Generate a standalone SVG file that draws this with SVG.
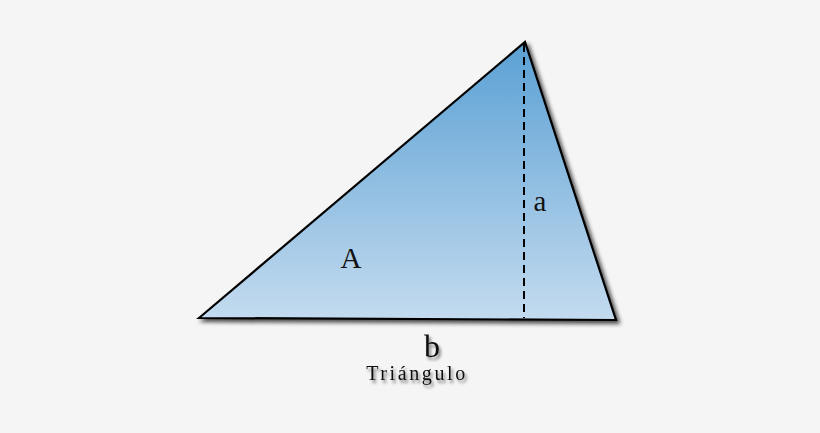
<svg xmlns="http://www.w3.org/2000/svg" width="820" height="433" viewBox="0 0 820 433">
<defs>
<linearGradient id="fillg" x1="0" y1="42" x2="0" y2="320" gradientUnits="userSpaceOnUse">
<stop offset="0" stop-color="#5aa0d4"/>
<stop offset="1" stop-color="#c4dbef"/>
</linearGradient>
<filter id="sh" x="-10%" y="-10%" width="130%" height="130%">
<feGaussianBlur in="SourceAlpha" stdDeviation="2"/>
<feOffset dx="3" dy="3"/>
<feComponentTransfer><feFuncA type="linear" slope="0.7"/></feComponentTransfer>
<feMerge><feMergeNode/><feMergeNode in="SourceGraphic"/></feMerge>
</filter>
<filter id="tsh" x="-20%" y="-30%" width="140%" height="180%">
<feGaussianBlur in="SourceAlpha" stdDeviation="1.5"/>
<feOffset dx="2" dy="3"/>
<feComponentTransfer><feFuncA type="linear" slope="0.5"/></feComponentTransfer>
<feMerge><feMergeNode/><feMergeNode in="SourceGraphic"/></feMerge>
</filter>
</defs>
<style>
.lbl{font-family:"Liberation Serif","DejaVu Serif",serif;fill:#111}
</style>
<rect width="820" height="433" fill="#f5f5f5"/>
<g id="triangle">
<polygon points="199,318 525,42 616,320" fill="url(#fillg)" stroke="#000" stroke-width="2.2" stroke-linejoin="miter" filter="url(#sh)"/>
</g>
<g id="connectors">
<line x1="524" y1="44" x2="524" y2="318" stroke="#000" stroke-width="2" stroke-dasharray="8,5"/>
</g>
<g id="labels">
<text class="lbl" x="351" y="268" font-size="29" text-anchor="middle">A</text>
<text class="lbl" x="540" y="211" font-size="29" text-anchor="middle">a</text>
<text class="lbl" x="432" y="357" font-size="32" text-anchor="middle" filter="url(#tsh)">b</text>
<text class="lbl" x="417" y="380" font-size="20" text-anchor="middle" letter-spacing="2.6" filter="url(#tsh)">Triángulo</text>
</g>
</svg>
